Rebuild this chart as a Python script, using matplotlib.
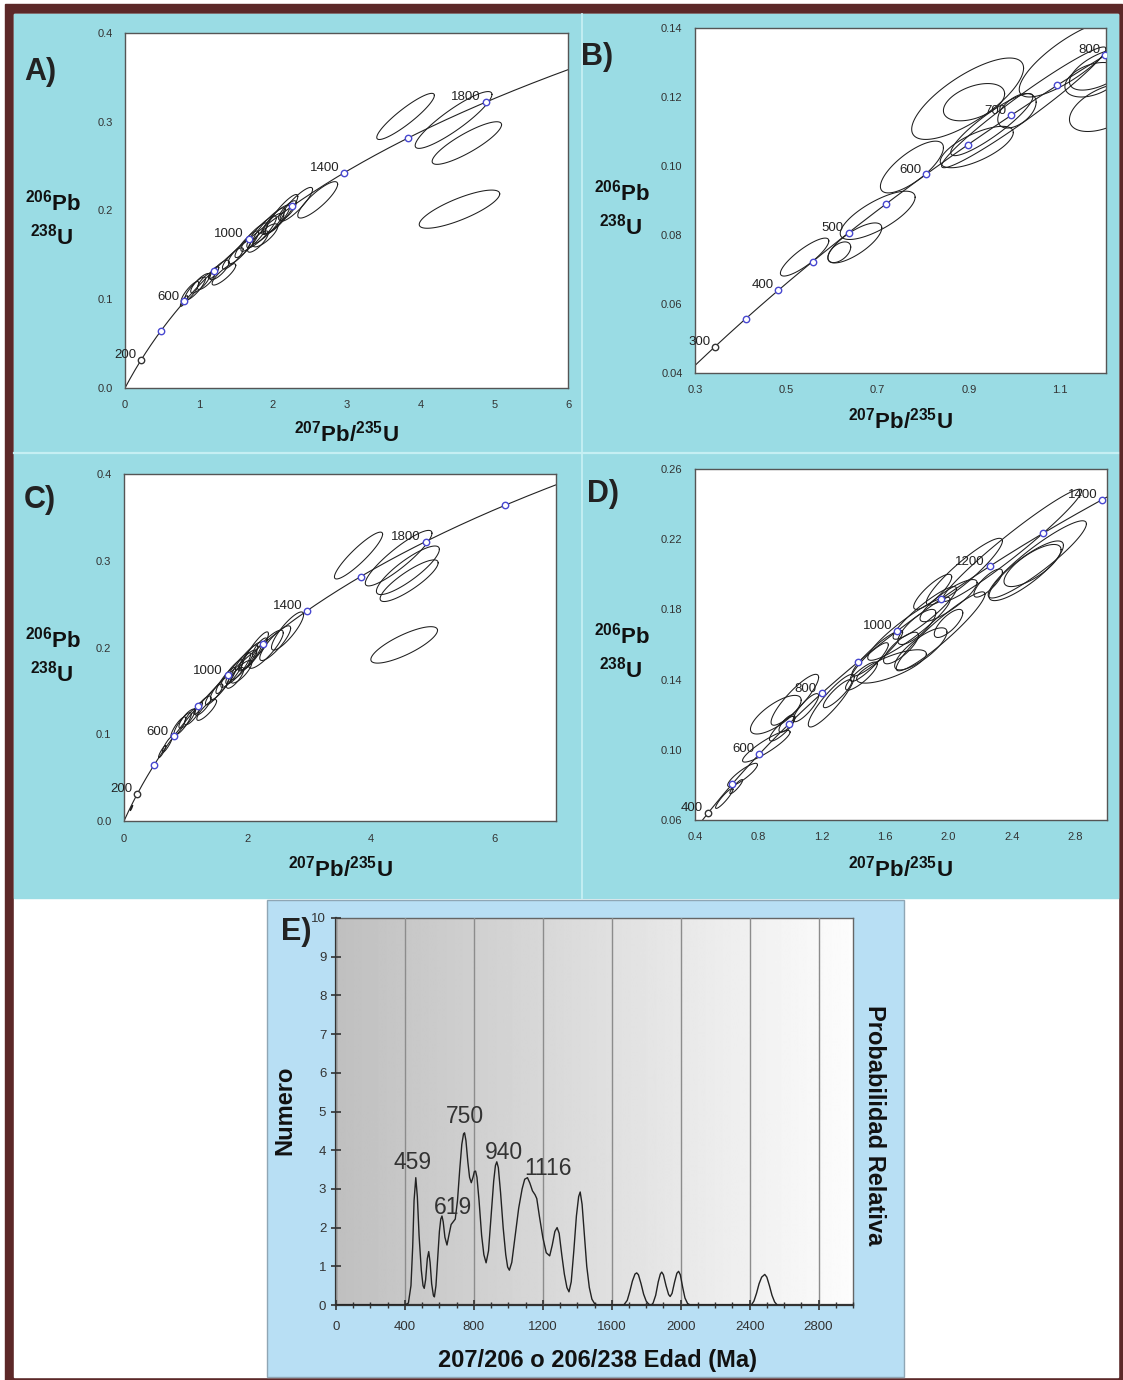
import numpy as np
import matplotlib
matplotlib.use("Agg")
from matplotlib import pyplot as plt
from matplotlib.patches import Rectangle

plt.rcParams['font.family'] = ['Liberation Sans', 'DejaVu Sans']
plt.rcParams['mathtext.fontset'] = 'custom'
plt.rcParams['mathtext.rm'] = 'Liberation Sans'
plt.rcParams['mathtext.bf'] = 'Liberation Sans:bold'

W, H = 1123, 1380

# decay constants (per Ma) for the concordia curve
LAMBDA_238 = 1.55125e-4
LAMBDA_235 = 9.8485e-4

# ---- panel A ----
A_XTICKS = [0, 1, 2, 3, 4, 5, 6]
A_XLABELS = ['0', '1', '2', '3', '4', '5', '6']
A_YTICKS = [0.0, 0.1, 0.2, 0.3, 0.4]
A_YLABELS = ['0.0', '0.1', '0.2', '0.3', '0.4']
A_AGES = [200, 400, 600, 800, 1000, 1200, 1400, 1600, 1800]
A_LABELS = [200, 600, 1000, 1400, 1800]
# (207/235 centre, 206/238 centre, half x, half y, rho)
A_ELLIPSES = [
    (3.80, 0.306, 0.39, 0.026, 0.91), (4.45, 0.302, 0.52, 0.032, 0.90),
    (4.63, 0.276, 0.47, 0.024, 0.86), (4.53, 0.2015, 0.545, 0.0215, 0.80),
    (2.61, 0.212, 0.27, 0.0205, 0.86), (2.32, 0.207, 0.22, 0.019, 0.88),
    (0.88, 0.108, 0.12, 0.012, 0.85), (0.95, 0.112, 0.14, 0.013, 0.86),
    (1.02, 0.118, 0.13, 0.011, 0.82), (1.10, 0.121, 0.12, 0.010, 0.80),
    (1.28, 0.133, 0.13, 0.011, 0.80), (1.34, 0.128, 0.16, 0.012, 0.85),
    (1.46, 0.146, 0.14, 0.012, 0.86), (1.55, 0.153, 0.15, 0.013, 0.86),
    (1.65, 0.162, 0.16, 0.015, 0.88), (1.75, 0.170, 0.18, 0.016, 0.88),
    (1.85, 0.176, 0.20, 0.018, 0.88), (1.95, 0.183, 0.22, 0.020, 0.90),
    (2.05, 0.190, 0.18, 0.016, 0.86), (2.12, 0.196, 0.22, 0.022, 0.90),
    (1.90, 0.172, 0.17, 0.013, 0.80), (2.00, 0.185, 0.15, 0.012, 0.80),
    (0.80, 0.098, 0.05, 0.006, 0.85), (1.20, 0.130, 0.07, 0.007, 0.80),
    (1.80, 0.165, 0.14, 0.012, 0.80), (2.20, 0.200, 0.12, 0.011, 0.80),
]

# ---- panel B ----
B_XTICKS = [0.3, 0.5, 0.7, 0.9, 1.1]
B_XLABELS = ['0.3', '0.5', '0.7', '0.9', '1.1']
B_YTICKS = [0.04, 0.06, 0.08, 0.10, 0.12, 0.14]
B_YLABELS = ['0.04', '0.06', '0.08', '0.10', '0.12', '0.14']
B_AGES = [300, 350, 400, 450, 500, 550, 600, 650, 700, 750, 800]
B_LABELS = [300, 400, 500, 600, 700, 800]
B_ELLIPSES = [
    (0.54, 0.0736, 0.053, 0.0055, 0.85), (0.616, 0.075, 0.025, 0.003, 0.50),
    (0.65, 0.0777, 0.059, 0.0058, 0.75), (0.70, 0.0857, 0.082, 0.007, 0.75),
    (0.775, 0.0997, 0.069, 0.0075, 0.75), (0.897, 0.1195, 0.1225, 0.0118, 0.75),
    (0.911, 0.1185, 0.067, 0.0054, 0.45), (0.917, 0.1055, 0.08, 0.006, 0.70),
    (1.005, 0.116, 0.042, 0.005, 0.50), (1.02, 0.117, 0.18, 0.0175, 0.97),
    (1.12, 0.131, 0.11, 0.011, 0.80), (1.19, 0.128, 0.07, 0.006, 0.60),
    (1.20, 0.117, 0.08, 0.007, 0.50), (1.17, 0.125, 0.06, 0.005, 0.40),
    (0.95, 0.112, 0.09, 0.009, 0.90),
]

# ---- panel C ----
C_XTICKS = [0, 2, 4, 6]
C_XLABELS = ['0', '2', '4', '6']
C_YTICKS = [0.0, 0.1, 0.2, 0.3, 0.4]
C_YLABELS = ['0.0', '0.1', '0.2', '0.3', '0.4']
C_AGES = [200, 400, 600, 800, 1000, 1200, 1400, 1600, 1800, 2000]
C_LABELS = [200, 600, 1000, 1400, 1800]
C_ELLIPSES = [
    (3.80, 0.306, 0.39, 0.027, 0.91), (4.45, 0.303, 0.54, 0.032, 0.90),
    (4.60, 0.289, 0.51, 0.028, 0.86), (4.62, 0.277, 0.47, 0.024, 0.86),
    (4.54, 0.203, 0.54, 0.021, 0.80), (2.65, 0.219, 0.26, 0.022, 0.86),
    (2.45, 0.205, 0.25, 0.020, 0.86), (2.30, 0.198, 0.28, 0.022, 0.86),
    (0.88, 0.108, 0.12, 0.012, 0.85), (0.95, 0.112, 0.14, 0.013, 0.86),
    (1.02, 0.118, 0.13, 0.011, 0.82), (1.10, 0.121, 0.12, 0.010, 0.80),
    (1.28, 0.133, 0.13, 0.011, 0.80), (1.34, 0.128, 0.16, 0.012, 0.85),
    (1.46, 0.146, 0.14, 0.012, 0.86), (1.55, 0.153, 0.15, 0.013, 0.86),
    (1.65, 0.162, 0.16, 0.015, 0.88), (1.75, 0.170, 0.18, 0.016, 0.88),
    (1.85, 0.176, 0.20, 0.018, 0.88), (1.95, 0.183, 0.22, 0.020, 0.90),
    (2.05, 0.190, 0.18, 0.016, 0.86), (2.12, 0.196, 0.22, 0.022, 0.90),
    (1.90, 0.172, 0.17, 0.013, 0.80), (2.00, 0.185, 0.15, 0.012, 0.80),
    (0.70, 0.088, 0.08, 0.009, 0.90), (0.62, 0.080, 0.06, 0.007, 0.90),
    (1.20, 0.130, 0.07, 0.007, 0.80), (0.12, 0.015, 0.02, 0.003, 0.90),
    (1.80, 0.165, 0.14, 0.012, 0.80), (2.20, 0.200, 0.12, 0.011, 0.80),
]

# ---- panel D ----
D_XTICKS = [0.4, 0.8, 1.2, 1.6, 2.0, 2.4, 2.8]
D_XLABELS = ['0.4', '0.8', '1.2', '1.6', '2.0', '2.4', '2.8']
D_YTICKS = [0.06, 0.10, 0.14, 0.18, 0.22, 0.26]
D_YLABELS = ['0.06', '0.10', '0.14', '0.18', '0.22', '0.26']
D_AGES = [400, 500, 600, 700, 800, 900, 1000, 1100, 1200, 1300, 1400]
D_LABELS = [400, 600, 800, 1000, 1200, 1400]
D_ELLIPSES = [
    (2.40, 0.2165, 0.44, 0.032, 0.97), (2.56, 0.2085, 0.31, 0.022, 0.92),
    (2.49, 0.202, 0.235, 0.017, 0.85), (2.53, 0.205, 0.18, 0.012, 0.75),
    (2.10, 0.2015, 0.24, 0.019, 0.92), (1.95, 0.1675, 0.28, 0.0225, 0.94),
    (1.825, 0.1575, 0.165, 0.012, 0.80), (1.75, 0.169, 0.26, 0.018, 0.92),
    (1.64, 0.1475, 0.22, 0.0095, 0.75), (1.26, 0.128, 0.145, 0.015, 0.90),
    (0.91, 0.120, 0.16, 0.011, 0.75), (1.03, 0.1285, 0.15, 0.0145, 0.88),
    (0.70, 0.0857, 0.094, 0.0066, 0.88), (0.585, 0.0723, 0.055, 0.0057, 0.92),
    (0.85, 0.102, 0.15, 0.009, 0.90), (2.00, 0.185, 0.18, 0.012, 0.85),
    (1.85, 0.178, 0.20, 0.015, 0.92), (1.50, 0.150, 0.12, 0.011, 0.90),
    (1.45, 0.142, 0.10, 0.008, 0.85), (1.30, 0.132, 0.09, 0.008, 0.88),
    (1.10, 0.124, 0.08, 0.008, 0.85), (0.95, 0.112, 0.08, 0.007, 0.85),
    (0.66, 0.079, 0.04, 0.004, 0.90), (0.98, 0.115, 0.05, 0.005, 0.75),
    (1.70, 0.158, 0.11, 0.009, 0.80), (2.00, 0.172, 0.09, 0.008, 0.75),
    (2.25, 0.195, 0.09, 0.008, 0.80), (1.90, 0.190, 0.12, 0.010, 0.85),
    (1.80, 0.170, 0.12, 0.010, 0.80), (1.55, 0.155, 0.16, 0.013, 0.92),
]

# ---- panel E : probability density curve ----
E_AGES = [0, 400, 420, 435, 445, 453, 463, 472, 482, 495, 505, 512, 520, 530,
          538, 546, 555, 565, 571, 580, 590, 600, 608, 615, 622, 632, 644,
          655, 668, 680, 692, 705, 718, 730, 740, 746, 754, 765, 775, 785,
          795, 803, 810, 818, 830, 845, 858, 871, 885, 900, 915, 925, 933,
          942, 955, 970, 985, 996, 1006, 1020, 1040, 1060, 1080, 1095, 1111,
          1125, 1140, 1155, 1165, 1180, 1200, 1220, 1240, 1255, 1270, 1283,
          1295, 1310, 1325, 1340, 1352, 1365, 1380, 1395, 1408, 1417, 1428,
          1440, 1455, 1470, 1485, 1500, 1515, 1670, 1690, 1705, 1720, 1735,
          1745, 1755, 1770, 1785, 1800, 1815, 1830, 1840, 1855, 1870, 1882,
          1890, 1900, 1915, 1930, 1939, 1950, 1965, 1978, 1988, 1998, 2012,
          2025, 2040, 2055, 2410, 2425, 2440, 2455, 2470, 2488, 2500, 2515,
          2530, 2545, 2560]
E_PROB = [0, 0, 0.05, 0.5, 1.5, 2.7, 3.29, 2.8, 1.8, 0.9, 0.5, 0.43, 0.65, 1.2,
          1.38, 1.1, 0.55, 0.25, 0.21, 0.5, 1.2, 1.9, 2.22, 2.30, 2.15, 1.75, 1.55,
          1.8, 2.08, 2.15, 2.22, 2.7, 3.5, 4.15, 4.42, 4.45, 4.25, 3.7, 3.3, 3.16,
          3.3, 3.45, 3.46, 3.3, 2.7, 1.8, 1.3, 1.09, 1.4, 2.3, 3.2, 3.6, 3.70,
          3.55, 2.9, 2.0, 1.3, 0.98, 0.90, 1.1, 1.8, 2.5, 3.0, 3.25, 3.29,
          3.15, 2.95, 2.85, 2.75, 2.3, 1.75, 1.35, 1.27, 1.55, 1.9, 2.0,
          1.85, 1.3, 0.8, 0.45, 0.34, 0.6, 1.4, 2.3, 2.8, 2.92, 2.6,
          1.9, 1.0, 0.45, 0.15, 0.04, 0, 0, 0.12, 0.35, 0.62, 0.8,
          0.83, 0.78, 0.55, 0.28, 0.1, 0.02, 0, 0.05, 0.25, 0.6, 0.8,
          0.85, 0.78, 0.5, 0.27, 0.22, 0.3, 0.6, 0.82, 0.87, 0.78, 0.45,
          0.18, 0.04, 0, 0, 0.1, 0.3, 0.55, 0.72, 0.79, 0.72, 0.5,
          0.25, 0.08, 0]
E_PEAK_TEXT = ['459', '619', '750', '940', '1116']
E_PEAK_X = [447, 679, 749, 975, 1230]
E_PEAK_Y = [3.67, 2.51, 4.86, 3.93, 3.54]
E_XTICKS = [0, 400, 800, 1200, 1600, 2000, 2400, 2800]
E_YTICKS = [0, 1, 2, 3, 4, 5, 6, 7, 8, 9, 10]


def rect(x0, y0, x1, y1):
    return [x0 / W, 1 - y1 / H, (x1 - x0) / W, (y1 - y0) / H]


def concordia(ages):
    ages = np.asarray(ages, dtype=float)
    return np.exp(LAMBDA_235 * ages) - 1, np.exp(LAMBDA_238 * ages) - 1


fig = plt.figure(figsize=(W / 100, H / 100), dpi=100)

# backgrounds drawn in pixel space
bg = fig.add_axes([0, 0, 1, 1])
bg.set_xlim(0, W)
bg.set_ylim(H, 0)
bg.axis('off')
bg.add_patch(Rectangle((5, 4), 1117, 1376, color='#5c2828'))
bg.add_patch(Rectangle((14, 14), 1104, 1363, color='white'))
bg.add_patch(Rectangle((14, 14), 1104, 884, color='#9adce4'))
bg.plot([14, 1118], [453, 453], color='#c6eff3', lw=1.6)
bg.plot([582, 582], [14, 898], color='#c6eff3', lw=1.3)
bg.add_patch(Rectangle((267, 900), 637, 477, facecolor='#b8dff4',
                       edgecolor='#8fa6b4', lw=1))

curve_ages = np.linspace(0, 2400, 600)
cx_curve, cy_curve = concordia(curve_ages)
tt = np.linspace(0, 2 * np.pi, 120)


def panel(box, xlim, ylim, xticks, xlabels, yticks, ylabels, ages, labels,
          ellipses, letter, letter_xy, ylab_xy, xlab_xy):
    ax = fig.add_axes(rect(*box))
    ax.set_facecolor('white')
    for ex, ey, sx, sy, r in ellipses:
        ax.plot(ex + sx * np.cos(tt),
                ey + sy * (r * np.cos(tt) + np.sqrt(1 - r * r) * np.sin(tt)),
                color='#1e1e1e', lw=0.75)
    ax.plot(cx_curve, cy_curve, color='#222222', lw=0.8)
    mx, my = concordia(ages)
    cols = ['#333333'] + ['#4848d0'] * (len(ages) - 1)
    for x, y, c in zip(mx, my, cols):
        ax.plot(x, y, 'o', ms=4.6, mfc='white', mec=c, mew=1.0, zorder=5)
    lx, ly = concordia(labels)
    for a, x, y in zip(labels, lx, ly):
        ax.annotate(str(a), (x, y), xytext=(-3.5, 1.2), textcoords='offset points',
                    ha='right', va='baseline', fontsize=9.5, color='#222222', zorder=6)
    ax.set_xlim(*xlim)
    ax.set_ylim(*ylim)
    ax.set_xticks(xticks)
    ax.set_xticklabels(xlabels)
    ax.set_yticks(yticks)
    ax.set_yticklabels(ylabels)
    ax.tick_params(length=0, labelsize=8, labelcolor='#333333', pad=9)
    for s in ax.spines.values():
        s.set_color('#555555')
        s.set_linewidth(1.0)
    fig.text(letter_xy[0] / W, 1 - letter_xy[1] / H, letter, fontsize=22,
             fontweight='bold', ha='center', va='center', color='#222222')
    fig.text(ylab_xy[0] / W, 1 - ylab_xy[1] / H, r'$\mathbf{^{206}Pb}$',
             fontsize=16, ha='center', va='center', color='#111111')
    fig.text((ylab_xy[0] - 1) / W, 1 - (ylab_xy[1] + 34) / H, r'$\mathbf{^{238}U}$',
             fontsize=16, ha='center', va='center', color='#111111')
    fig.text(xlab_xy[0] / W, 1 - xlab_xy[1] / H, r'$\mathbf{^{207}Pb/^{235}U}$',
             fontsize=16, ha='center', va='center', color='#111111')
    return ax


panel((125, 33, 568, 388), (0, 6), (0, 0.4), A_XTICKS, A_XLABELS, A_YTICKS, A_YLABELS,
      A_AGES, A_LABELS, A_ELLIPSES, 'A)', (40, 72), (53, 203), (346, 434))
panel((695, 28, 1106, 373), (0.3, 1.2), (0.04, 0.14), B_XTICKS, B_XLABELS, B_YTICKS,
      B_YLABELS, B_AGES, B_LABELS, B_ELLIPSES, 'B)', (597, 57), (622, 193), (900, 421))
panel((124, 474, 556, 821), (0, 7), (0, 0.4), C_XTICKS, C_XLABELS, C_YTICKS, C_YLABELS,
      C_AGES, C_LABELS, C_ELLIPSES, 'C)', (40, 500), (53, 640), (340, 869))
panel((695, 469, 1107, 820), (0.4, 3.0), (0.06, 0.26), D_XTICKS, D_XLABELS, D_YTICKS,
      D_YLABELS, D_AGES, D_LABELS, D_ELLIPSES, 'D)', (603, 494), (622, 636), (900, 869))

# ---- panel E ----
axE = fig.add_axes(rect(336, 918, 853, 1305))
grad = np.linspace(0.75, 0.99, 512).reshape(1, -1)
axE.imshow(grad, cmap='gray', vmin=0, vmax=1, extent=(0, 3000, 0, 10),
           aspect='auto', zorder=0, interpolation='bilinear')
axE.set_xlim(0, 3000)
axE.set_ylim(0, 10)
axE.set_xticks(E_XTICKS)
axE.set_xticks(np.arange(0, 3001, 100), minor=True)
axE.set_yticks(E_YTICKS)
axE.xaxis.grid(True, color='#8c8c8c', lw=1.0)
axE.set_axisbelow(False)
axE.plot(E_AGES, E_PROB, color='#222222', lw=1.0, zorder=3)
for s, x, y in zip(E_PEAK_TEXT, E_PEAK_X, E_PEAK_Y):
    axE.text(x, y, s, fontsize=16.5, ha='center', va='center', color='#333333', zorder=4)
axE.tick_params(axis='both', which='major', direction='inout', length=7,
                width=1.2, color='#333333', labelsize=9.5, labelcolor='#333333')
axE.tick_params(axis='x', which='minor', direction='inout', length=4,
                width=1.0, color='#333333')
axE.tick_params(axis='x', which='major', pad=8)
for side in ['left', 'bottom']:
    axE.spines[side].set_color('#333333')
    axE.spines[side].set_linewidth(1.6)
for side in ['top', 'right']:
    axE.spines[side].set_color('#666666')
    axE.spines[side].set_linewidth(1.0)

fig.text(296 / W, 1 - 932 / H, 'E)', fontsize=22, fontweight='bold',
         ha='center', va='center', color='#222222')
fig.text(285 / W, 1 - 1110 / H, 'Numero', fontsize=17, fontweight='bold',
         rotation=90, ha='center', va='center', color='#111111')
fig.text(875 / W, 1 - 1125 / H, 'Probabilidad Relativa', fontsize=17,
         fontweight='bold', rotation=270, ha='center', va='center', color='#111111')
fig.text(598 / W, 1 - 1360 / H, '207/206 o 206/238 Edad (Ma)', fontsize=17,
         fontweight='bold', ha='center', va='center', color='#111111')

fig.savefig('out.png', dpi=100)
